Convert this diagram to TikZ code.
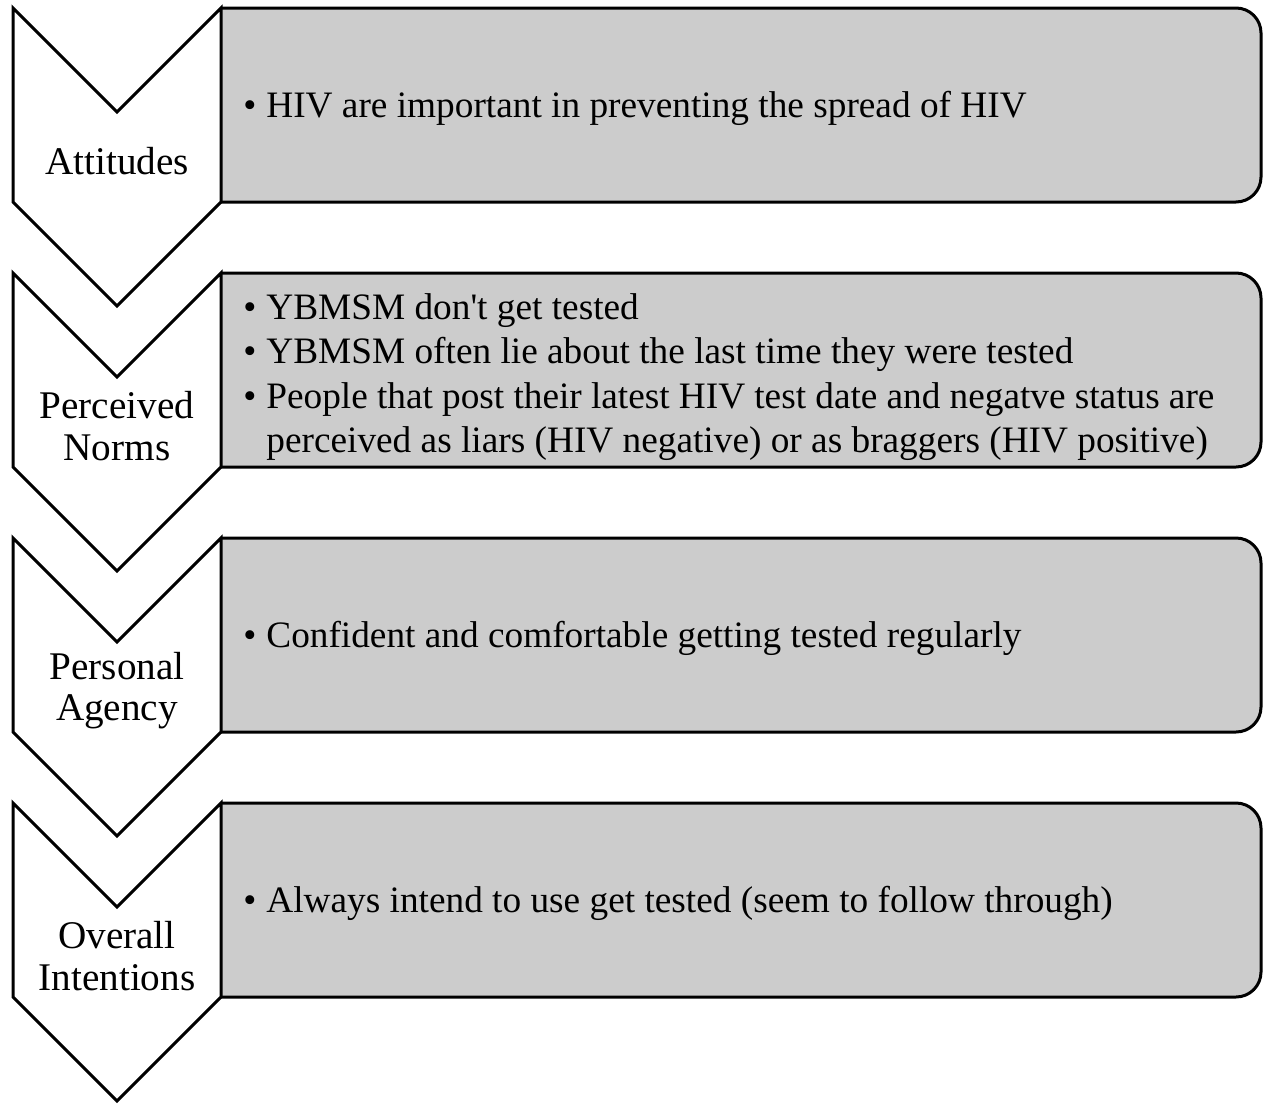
\documentclass[tikz,border=0pt]{standalone}
\usepackage{fontspec}
\setmainfont{Liberation Serif}
\usetikzlibrary{positioning,calc}
\definecolor{panelgray}{RGB}{204,204,204}
\newcommand{\itm}{\makebox[11.5pt][l]{•}}

\begin{document}
\begin{tikzpicture}[x=0.5pt, y=-0.5pt,
  font=\fontsize{18.65}{22.2}\selectfont,
  chev/.style={draw, line width=1.5pt, fill=white, line join=miter},
  panel/.style={draw, line width=1.5pt, fill=panelgray, rounded corners=12.5pt},
  lbl/.style={align=center, inner sep=0pt, font=\fontsize{19.6}{20.6}\selectfont},
  pts/.style={anchor=west, align=left, inner sep=0pt}]
\useasboundingbox (0,0) rectangle (1263,1103);
% one gray panel and one chevron per stage
\foreach \y [count=\i] in {8,273,538,803}{
  \path[panel] (221,\y) -- (1261,\y) -- (1261,\y+194) -- (221,\y+194);
  \draw[chev] (13,\y) -- (117,\y+104) -- (221,\y) -- (221,\y+194) -- (117,\y+298) -- (13,\y+194) -- cycle;
  \coordinate (c\i) at (117,\y+153);
  \coordinate (p\i) at (243,\y+100);
}
% stage names
\node[lbl] (att) at (c1) {Attitudes};
\node[lbl] (norms) at (c2) {Perceived\\Norms};
\node[lbl] (agency) at (c3) {Personal\\Agency};
\node[lbl] (intent) at (c4) {Overall\\Intentions};
% findings
\node[pts] (attpts) at (p1) {\itm HIV are important in preventing the spread of HIV};
\node[pts, yshift=-2pt] (normspts) at (p2) {\itm YBMSM don\textquotesingle t get tested\\
  \itm YBMSM often lie about the last time they were tested\\
  \itm\makebox[474pt][s]{People that post their latest HIV test date and negatve status are}\\
  \hspace*{11.5pt}perceived as liars (HIV negative) or as braggers (HIV positive)};
\node[pts] (agencypts) at (p3) {\itm Confident and comfortable getting tested regularly};
\node[pts] (intentpts) at (p4) {\itm Always intend to use get tested (seem to follow through)};
\end{tikzpicture}
\end{document}
